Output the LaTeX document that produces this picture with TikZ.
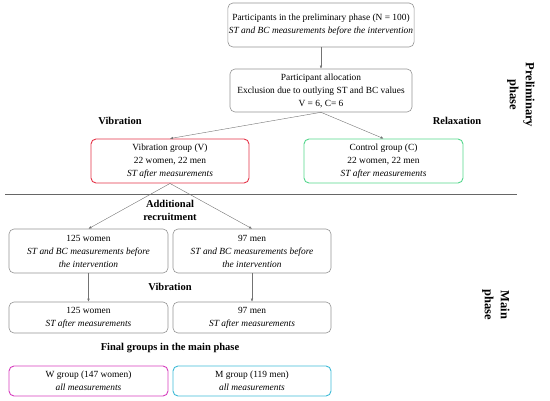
\documentclass[tikz,border=0pt]{standalone}
\usepackage{fontspec}
\setmainfont{Liberation Serif}
\usetikzlibrary{arrows.meta}
\definecolor{vibred}{RGB}{228,52,72}
\definecolor{ctrlgreen}{RGB}{84,214,140}
\definecolor{wpink}{RGB}{214,62,190}
\definecolor{mcyan}{RGB}{62,186,214}
\tikzset{
  box/.style={draw=gray!85, line width=0.6pt, rounded corners=5pt, align=center, inner sep=1pt,
    font=\fontsize{9.4}{13}\selectfont},
  cbox/.style={box, line width=0.9pt},
  lbl/.style={align=center, font=\fontsize{10.5}{13}\selectfont\bfseries},
  side/.style={align=center, font=\fontsize{12.5}{16}\selectfont\bfseries, rotate=-90},
  arr/.style={draw=gray!90!black, -{Latex[length=3pt,width=2.5pt]}}
}
\begin{document}
\begin{tikzpicture}[x=1pt,y=-1pt]
\useasboundingbox (0,0) rectangle (550,401);
\node[box, minimum width=182pt, minimum height=44pt] (pre) at (321,25)
  {Participants in the preliminary phase (N = 100)\\ \textit{ST and BC measurements before the intervention}};
\node[box, minimum width=182pt, minimum height=43pt] (alloc) at (321,90.5)
  {Participant allocation\\ Exclusion due to outlying ST and BC values\\ V = 6, C= 6};
\node[cbox, draw=vibred, minimum width=158pt, minimum height=44pt] (vib) at (170,161)
  {Vibration group (V)\\ 22 women, 22 men\\ \textit{ST after measurements}};
\node[cbox, draw=ctrlgreen, minimum width=159pt, minimum height=44pt] (ctrl) at (383.5,161)
  {Control group (C)\\ 22 women, 22 men\\ \textit{ST after measurements}};
\node[box, minimum width=159pt, minimum height=44pt] (wpre) at (88.5,251)
  {125 women\\ \textit{ST and BC measurements before}\\ \textit{the intervention}};
\node[box, minimum width=158pt, minimum height=44pt] (mpre) at (252,251)
  {97 men\\ \textit{ST and BC measurements before}\\ \textit{the intervention}};
\node[box, minimum width=159pt, minimum height=31pt] (wpost) at (88.5,317.5)
  {125 women\\ \textit{ST after measurements}};
\node[box, minimum width=158pt, minimum height=31pt] (mpost) at (252,317.5)
  {97 men\\ \textit{ST after measurements}};
\node[cbox, draw=wpink, minimum width=159pt, minimum height=30pt] (wgrp) at (88.5,381)
  {W group (147 women)\\ \textit{all measurements}};
\node[cbox, draw=mcyan, minimum width=158pt, minimum height=30pt] (mgrp) at (252,381)
  {M group (119 men)\\ \textit{all measurements}};
% labels
\node[lbl] (lvib) at (120,121) {Vibration};
\node[lbl] (lrel) at (457,121) {Relaxation};
\node[lbl] (ladd) at (170,210) {Additional\\ recruitment};
\node[lbl] (lvib2) at (170,287) {Vibration};
\node[lbl] (lfin) at (170,348) {Final groups in the main phase};
\node[side] (lpre) at (521,95) {Preliminary\\ phase};
\node[side] (lmain) at (496,305) {Main\\ phase};
% phase divider
\coordinate (divl) at (5,194);
\coordinate (divr) at (517,194);
\draw[gray!80!black] (divl) -- (divr);
% arrows
\draw[arr] (pre) -- (alloc);
\draw[arr] (alloc.south) -- (vib.north);
\draw[arr] (alloc.south) -- (ctrl.north);
\draw[arr] (vib.south) -- (wpre.north);
\draw[arr] (vib.south) -- (mpre.north);
\draw[arr] (wpre) -- (wpost);
\draw[arr] (mpre) -- (mpost);
\end{tikzpicture}
\end{document}
